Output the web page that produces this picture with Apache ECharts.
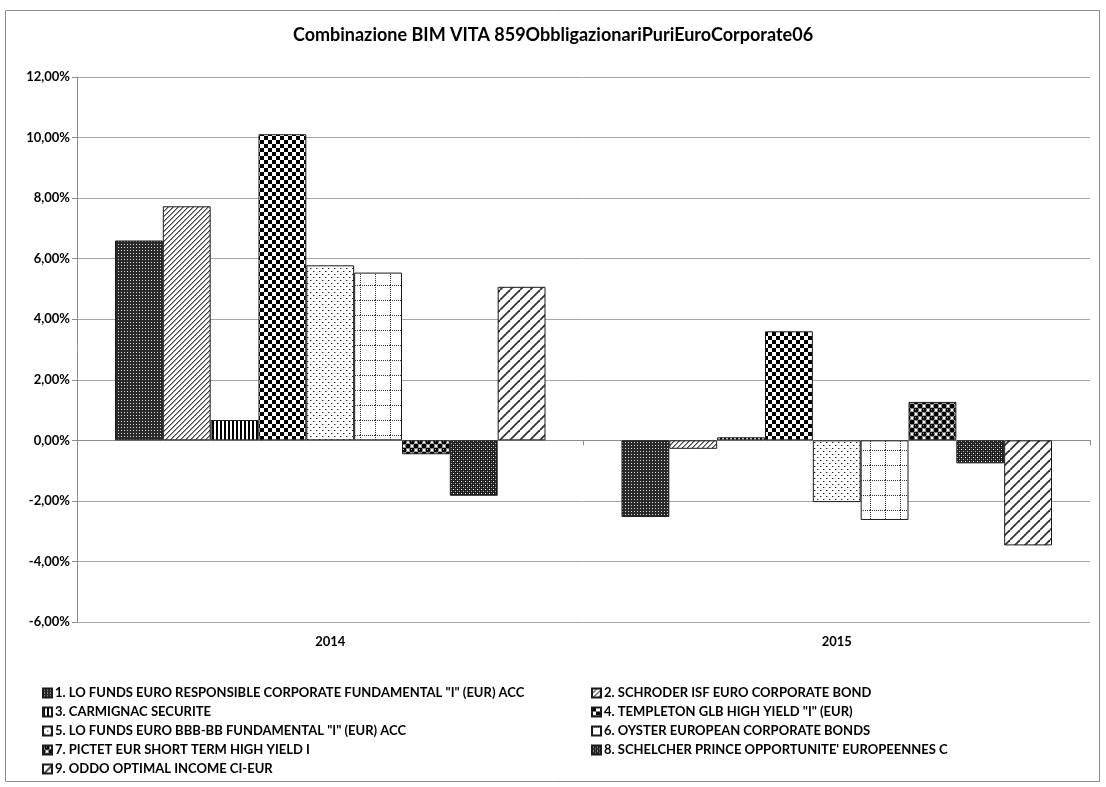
<!DOCTYPE html>
<html>
<head>
<meta charset="utf-8">
<script src="https://cdn.jsdelivr.net/npm/echarts@6/dist/echarts.min.js"></script>
<style>
html,body{margin:0;padding:0;background:#fff;}
#c{width:1106px;height:787px;}
</style>
</head>
<body>
<div id="c"></div>
<script>
const categories = ['2014', '2015'];
const seriesNames = [
  '1. LO FUNDS EURO RESPONSIBLE CORPORATE FUNDAMENTAL "I" (EUR) ACC',
  '2. SCHRODER ISF EURO CORPORATE BOND',
  '3. CARMIGNAC SECURITE',
  '4. TEMPLETON GLB HIGH YIELD "I" (EUR)',
  '5. LO FUNDS EURO BBB-BB FUNDAMENTAL "I" (EUR) ACC',
  '6. OYSTER EUROPEAN CORPORATE BONDS',
  "7. PICTET EUR SHORT TERM HIGH YIELD I",
  "8. SCHELCHER PRINCE OPPORTUNITE' EUROPEENNES C",
  '9. ODDO OPTIMAL INCOME CI-EUR'
];
const s1 = [6.60, -2.53];
const s2 = [7.73, -0.28];
const s3 = [0.67, 0.10];
const s4 = [10.11, 3.60];
const s5 = [5.78, -2.04];
const s6 = [5.54, -2.63];
const s7 = [-0.46, 1.27];
const s8 = [-1.83, -0.76];
const s9 = [5.07, -3.47];
const seriesValues = [s1, s2, s3, s4, s5, s6, s7, s8, s9];
const yTicks = { min: -6, max: 12, interval: 2 };
const titleText = 'Combinazione BIM VITA 859ObbligazionariPuriEuroCorporate06';

function mk(w, h, draw) {
  const c = document.createElement('canvas');
  c.width = w; c.height = h;
  const g = c.getContext('2d');
  draw(g, w, h);
  return c;
}
function px(g, x, y, col) { g.fillStyle = col; g.fillRect(x, y, 1, 1); }

const patterns = [
  mk(3, 3, (g) => { g.fillStyle = '#2a2a2a'; g.fillRect(0, 0, 3, 3); px(g, 1, 1, '#d8d8d8'); }),
  mk(5, 5, (g) => { g.fillStyle = '#fff'; g.fillRect(0, 0, 5, 5);
    for (let i = 0; i < 5; i++) { px(g, (4 - i + 5) % 5, i, '#444'); px(g, (5 - i) % 5, i, '#999'); } }),
  mk(4, 1, (g) => { g.fillStyle = '#fff'; g.fillRect(0, 0, 4, 1); g.fillStyle = '#000'; g.fillRect(0, 0, 2, 1); }),
  mk(8, 8, (g) => { g.fillStyle = '#fff'; g.fillRect(0, 0, 8, 8); g.fillStyle = '#000'; g.fillRect(0, 0, 4, 4); g.fillRect(4, 4, 4, 4); }),
  mk(6, 6, (g) => { g.fillStyle = '#fff'; g.fillRect(0, 0, 6, 6); px(g, 1, 1, '#222'); px(g, 2, 1, '#aaa'); px(g, 4, 4, '#222'); px(g, 5, 4, '#aaa'); }),
  mk(15, 15, (g) => { g.fillStyle = '#fff'; g.fillRect(0, 0, 15, 15);
    for (let i = 0; i < 15; i += 2) { px(g, i, 0, '#333'); px(g, 0, i, '#333'); } }),
  mk(8, 8, (g) => { g.fillStyle = '#fff'; g.fillRect(0, 0, 8, 8); g.fillStyle = '#000';
    [[4, 2], [0, 6], [8, 6], [0, -2], [8, -2], [4, 10]].forEach(([x, y]) => { g.beginPath(); g.arc(x, y, 2.6, 0, Math.PI * 2); g.fill(); });
    px(g, 3, 1, '#bbb'); }),
  mk(4, 4, (g) => { g.fillStyle = '#1e1e1e'; g.fillRect(0, 0, 4, 4); px(g, 1, 1, '#fff'); px(g, 3, 3, '#bbb'); px(g, 3, 1, '#555'); px(g, 1, 3, '#555'); }),
  mk(10, 10, (g) => { g.fillStyle = '#fff'; g.fillRect(0, 0, 10, 10); g.strokeStyle = '#333'; g.lineWidth = 1.8;
    for (const o of [-10, 0, 10]) { g.beginPath(); g.moveTo(o, 10); g.lineTo(o + 10, 0); g.stroke(); } })
];

const FONT = 'Lato';
const chart = echarts.init(document.getElementById('c'), null, { renderer: 'canvas' });

const series = seriesNames.map((name, i) => ({
  name: name,
  type: 'bar',
  xAxisIndex: 0,
  data: seriesValues[i],
  barGap: '0%',
  barCategoryGap: '15%',
  itemStyle: { color: { image: patterns[i], repeat: 'repeat' }, borderColor: '#1a1a1a', borderWidth: 1 },
  emphasis: { disabled: true },
  animation: false
}));

const legendCommon = {
  orient: 'vertical',
  itemWidth: 9,
  itemHeight: 9,
  itemGap: 5,
  icon: 'rect',
  selectedMode: false,
  textStyle: { fontFamily: FONT, fontWeight: 'bold', fontSize: 13, color: '#000', lineHeight: 14, padding: [0, 0, 0, -2] }
};

chart.setOption({
  animation: false,
  backgroundColor: '#fff',
  title: {
    text: titleText,
    left: 'center',
    top: 21,
    textStyle: { fontFamily: FONT, fontWeight: 'bold', fontSize: 18, color: '#000' }
  },
  graphic: [{
    type: 'rect', shape: { x: 5.5, y: 10.5, width: 1094, height: 771 },
    style: { fill: 'none', stroke: '#8c8c8c', lineWidth: 1 }, silent: true
  }],
  legend: [
    Object.assign({}, legendCommon, { left: 37, top: 681, data: [0, 2, 4, 6, 8].map(i => seriesNames[i]) }),
    Object.assign({}, legendCommon, { left: 586, top: 681, data: [1, 3, 5, 7].map(i => seriesNames[i]) })
  ],
  grid: { left: 77, right: 16, top: 77, bottom: 165, containLabel: false },
  xAxis: [{
    type: 'category',
    data: categories,
    position: 'bottom',
    axisLine: { show: false, onZero: false },
    axisTick: { show: false },
    axisLabel: { margin: 13, fontFamily: FONT, fontWeight: 'bold', fontSize: 13, color: '#000' }
  }, {
    type: 'category',
    data: categories,
    position: 'bottom',
    axisLine: { show: true, onZero: true, lineStyle: { color: '#8c8c8c', width: 1 } },
    axisTick: { show: true, length: 5, lineStyle: { color: '#8c8c8c' } },
    axisLabel: { show: false },
    splitLine: { show: false }
  }],
  yAxis: {
    type: 'value',
    min: yTicks.min,
    max: yTicks.max,
    interval: yTicks.interval,
    axisLine: { show: true, lineStyle: { color: '#8c8c8c' } },
    axisTick: { show: true, length: 5, lineStyle: { color: '#8c8c8c' } },
    splitLine: { show: true, lineStyle: { color: '#a6a6a6', width: 1 } },
    axisLabel: {
      margin: 7,
      fontFamily: FONT, fontWeight: 'bold', fontSize: 13, color: '#000',
      formatter: v => v.toFixed(2).replace('.', ',') + '%'
    }
  },
  series: series
});
</script>
</body>
</html>
